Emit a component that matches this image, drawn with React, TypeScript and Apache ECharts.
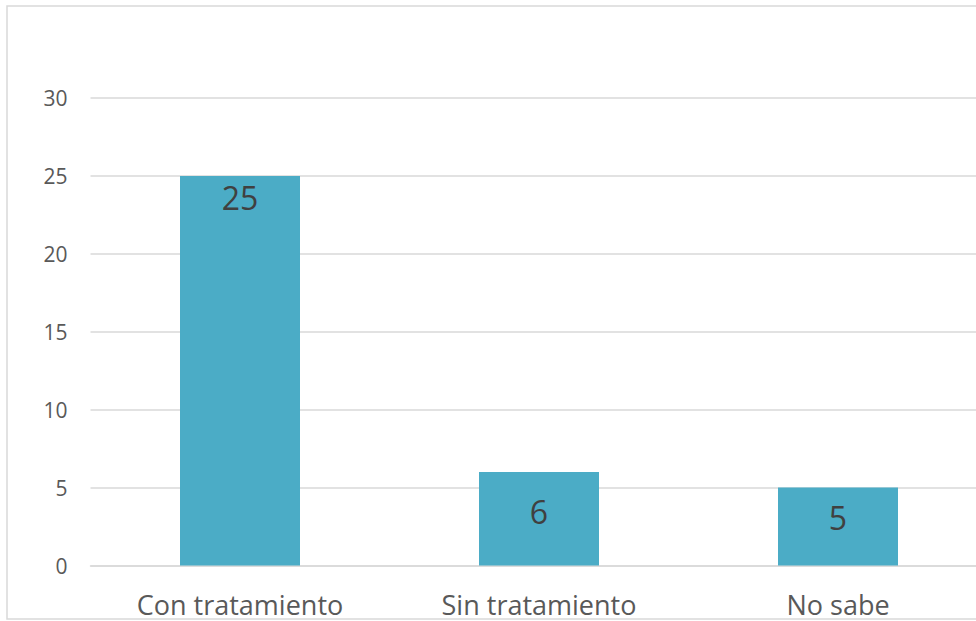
import React, { useEffect, useRef } from "react";
import * as echarts from "echarts";

const categories = ["Con tratamiento", "Sin tratamiento", "No sabe"];
const values = [25, 6, 5];
const yTicks = [0, 5, 10, 15, 20, 25, 30];

const labelDistance = [6, 23, 14];

export default function App() {
  const ref = useRef<HTMLDivElement>(null);
  useEffect(() => {
    if (!ref.current) return;
    const chart = echarts.init(ref.current, null, { renderer: "svg" });
    chart.setOption({
      animation: false,
      graphic: [
        {
          type: "rect",
          shape: { x: 7, y: 6, width: 1100, height: 613 },
          style: { fill: "none", stroke: "#d9d9d9", lineWidth: 1.5 },
          silent: true,
        },
      ],
      grid: { left: 90.5, top: 98, width: 897, height: 467.5, containLabel: false },
      xAxis: {
        type: "category",
        data: categories,
        axisLine: { show: true, lineStyle: { color: "#d9d9d9", width: 1.5 } },
        axisTick: { show: false },
        axisLabel: {
          color: "#595959",
          fontSize: 27,
          lineHeight: 27,
          fontFamily: "Open Sans",
          margin: 25,
        },
      },
      yAxis: {
        type: "value",
        min: yTicks[0],
        max: yTicks[yTicks.length - 1],
        interval: 5,
        axisLine: { show: false },
        axisTick: { show: false },
        splitLine: { lineStyle: { color: "#d9d9d9", width: 1.5 } },
        axisLabel: {
          color: "#595959",
          fontSize: 21,
          fontFamily: "Open Sans",
          margin: 23,
        },
      },
      series: [
        {
          type: "bar",
          data: values.map((v, i) => ({
            value: v,
            label: { distance: labelDistance[i] },
          })),
          barWidth: 120,
          itemStyle: { color: "#4BACC6" },
          label: {
            show: true,
            position: "insideTop",
            color: "#404040",
            fontSize: 32,
            fontFamily: "Open Sans",
          },
        },
      ],
    });
    return () => chart.dispose();
  }, []);
  return (
    <div style={{ position: "absolute", left: 0, top: 0, width: 976, height: 621, overflow: "hidden", background: "#fff" }}>
      <div ref={ref} style={{ width: 1000, height: 621 }} />
    </div>
  );
}
